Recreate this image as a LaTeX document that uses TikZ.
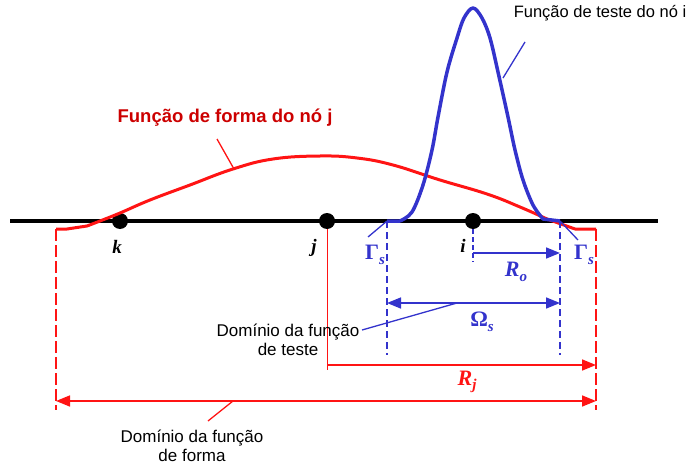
\documentclass[tikz,border=0pt]{standalone}
\usepackage{fontspec}
\setmainfont{Liberation Sans}
\newfontfamily\seriffont{Liberation Serif}
\usetikzlibrary{arrows.meta, positioning}

\definecolor{shapered}{RGB}{255,20,20}
\definecolor{titlered}{RGB}{204,0,0}
\definecolor{testblue}{RGB}{51,51,204}

\newcommand{\symsub}[2]{#1\raisebox{-0.45ex}{\fontsize{15}{15}\selectfont\itshape #2}}

\begin{document}
\begin{tikzpicture}[x=1pt, y=-1pt,
    dot/.style={circle, fill=black, inner sep=0pt, minimum size=16pt},
    nodelbl/.style={font=\fontsize{19}{19}\selectfont\seriffont\bfseries\itshape, inner sep=0pt},
    symlbl/.style={font=\fontsize{22}{22}\selectfont\seriffont\bfseries\itshape, text=#1, inner sep=0pt},
    note/.style={font=\fontsize{17}{19}\selectfont, align=center, inner sep=0pt},
    arrow/.style={-{Triangle[length=14pt, width=11pt]}, line width=1.6pt},
    reddash/.style={shapered, line width=1.6pt, dash pattern=on 12pt off 4pt},
    bluedash/.style={testblue, line width=1.6pt, dash pattern=on 7pt off 4pt},
    leader/.style={line width=1.3pt},
]
\useasboundingbox (0,0) rectangle (692,465);

% ── Axis and nodes ──
\coordinate (axL) at (10,221);
\coordinate (axR) at (658,221);
\draw[line width=4pt] (axL) -- (axR);
\node[dot] (k) at (120,221) {};
\node[dot] (j) at (327,221) {};
\node[dot] (i) at (473,221) {};
\node[nodelbl] (klbl) at (117,247) {k};
\node[nodelbl] (jlbl) at (314,248) {j};
\node[nodelbl] (ilbl) at (463,246) {i};

% ── Shape function of node j ──
\draw[shapered, line width=3pt, line join=round]
    (56,229) -- (67,229) -- (87,226)
    plot[smooth, tension=0.7] coordinates {(87,226) (100,221) (120,213) (150,200) (190,185) (233,169)
        (273,159) (320,156) (357,158) (393,165) (440,180) (487,194) (520,207) (547,219)}
    -- (575,229) -- (596,229);

% ── Test function of node i ──
\draw[testblue, line width=3.5pt, line join=round]
    (387,221) -- (400,221)
    plot[smooth, tension=0.55] coordinates {(400,221) (412,212) (423,185) (432,150) (438,117) (447,72)
        (457,38) (464,18) (473,8) (482,18) (490,38) (498,72) (508,117) (515,150) (523,180) (533,205) (543,219)}
    -- (560,221);

% ── Domains ──
\coordinate (shL) at (56,229);
\coordinate (shLb) at (56,410);
\coordinate (shR) at (596,229);
\coordinate (shRb) at (596,410);
\draw[reddash] (shL) -- (shLb);
\draw[reddash] (shR) -- (shRb);
\coordinate (jb) at (327,370);
\draw[shapered, line width=1pt] (j.south) -- (jb);

\coordinate (teL) at (387,221);
\coordinate (teLb) at (387,355);
\coordinate (teR) at (560,221);
\coordinate (teRb) at (560,355);
\draw[bluedash] (teL) -- (teLb);
\draw[bluedash] (teR) -- (teRb);
\coordinate (ib) at (473,262);
\draw[testblue, line width=1.3pt, dash pattern=on 5pt off 3pt] (i.south) -- (ib);

% ── Dimension arrows ──
\coordinate (ro1) at (473,253);
\coordinate (ro2) at (560,253);
\draw[arrow, testblue] (ro1) -- (ro2);
\coordinate (om1) at (387,303);
\coordinate (om2) at (560,303);
\draw[arrow, testblue, {Triangle[length=14pt, width=11pt]}-{Triangle[length=14pt, width=11pt]}] (om1) -- (om2);
\coordinate (rj1) at (327,365);
\coordinate (rj2) at (596,365);
\draw[arrow, shapered] (rj1) -- (rj2);
\coordinate (dm1) at (56,401);
\coordinate (dm2) at (596,401);
\draw[arrow, shapered, {Triangle[length=14pt, width=11pt]}-{Triangle[length=14pt, width=11pt]}] (dm1) -- (dm2);

% ── Symbols ──
\node[symlbl=testblue] (gamL) at (375,255) {\symsub{\upshape Γ}{s}};
\node[symlbl=testblue] (gamR) at (584,255) {\symsub{\upshape Γ}{s}};
\draw[testblue, leader] (teL) -- (368,237);
\draw[testblue, leader] (teR) -- (578,240);
\node[symlbl=testblue] (ro) at (516,272) {\symsub{R}{o}};
\node[symlbl=testblue] (om) at (482,322) {\symsub{\upshape Ω}{s}};
\node[symlbl=shapered] (rj) at (467,382) {\symsub{R}{j}};

% ── Labels ──
\node[font=\fontsize{18.5}{20}\selectfont\bfseries, text=titlered, inner sep=0pt] (shapelbl) at (225,118) {Função de forma do nó j};
\coordinate (shapept) at (234,169);
\draw[shapered, leader] (217,139) -- (shapept);

\node[font=\fontsize{16.5}{18}\selectfont, inner sep=0pt] (testlbl) at (600,13) {Função de teste do nó i};
\coordinate (testpt) at (503,78);
\draw[testblue, leader] (525,42) -- (testpt);

\node[note] (tedom) at (288,340) {Domínio da função\\de teste};
\coordinate (tedompt) at (457,303);
\draw[testblue, leader] (362,330) -- (tedompt);

\node[note] (shdom) at (192,446) {Domínio da função\\de forma};
\coordinate (shdompt) at (233,401);
\draw[shapered, leader] (208,421) -- (shdompt);

\end{tikzpicture}
\end{document}
